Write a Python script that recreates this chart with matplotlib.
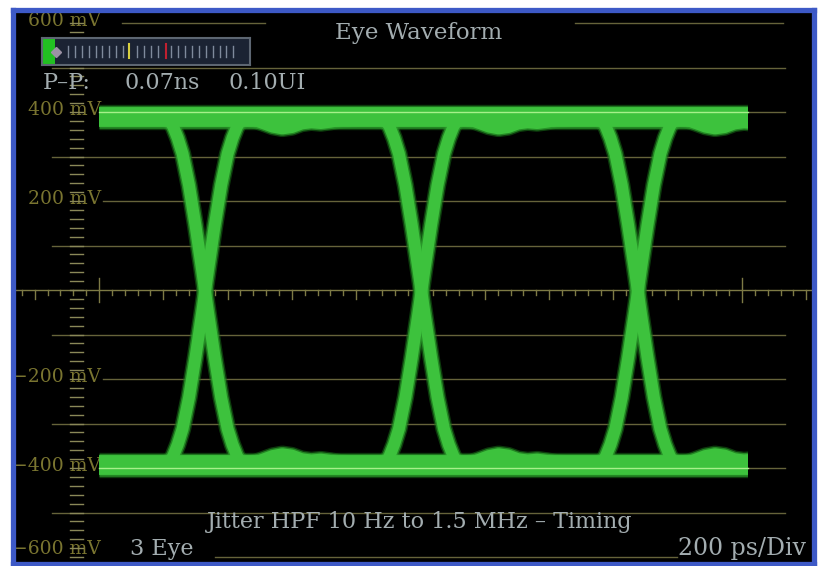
import numpy as np
import matplotlib
matplotlib.use("Agg")
import matplotlib.pyplot as plt
import matplotlib.transforms as mtransforms
from matplotlib.patches import Rectangle

# ---- eye diagram readings (HD-SDI, 200 ps/div) ----
crossings_ps = [330, 1003, 1676]
ui_ps = 673
window_ps = [0, 2018]
high_mv = 388
low_mv = -394

# falling edge profile around a crossing (fraction of half swing)
edge_dt_ps = [-125, -115, -100, -85, -70, -50, -30, -10, 0, 10, 30, 50, 70, 85, 100, 115, 125]
edge_frac = [1.0, 0.99, 0.95, 0.88, 0.79, 0.61, 0.38, 0.13, 0.0,
             -0.13, -0.38, -0.61, -0.79, -0.88, -0.95, -0.99, -1.0]

# settling ripple after an edge (mV toward the eye centre)
settle_dt_ps = [125, 150, 180, 210, 240, 270, 300, 330, 360, 390, 420, 460, 520]
settle_mv = [0, 5, 13, 21, 25, 22, 14, 11, 13, 10, 6, 3, 0]

# flat level spread (noise band)
band_offsets_mv = [-9, 0, 9]

# jitter readout
pp_ns = 0.07
pp_ui = 0.10
meter_max_ui = 1.6
meter_yellow_ui = 0.67
meter_red_ui = 0.95

# graticule
grid_mv = [600, 500, 400, 300, 200, 100, -100, -200, -300, -400, -500, -600]
label_mv = [600, 400, 200, -200, -400, -600]
ps_per_div = 200

# ---- screen geometry ----
W, H = 818, 566
X0_PX, PX_PER_PS = 99, 64.3 / 200
Y0_PX, PX_PER_MV = 290, 44.5 / 100


def px_to_ps(px):
    return (px - X0_PX) / PX_PER_PS


def px_to_mv(py):
    return (Y0_PX - py) / PX_PER_MV


fig = plt.figure(figsize=(W / 100, H / 100), dpi=100, facecolor="white")
left, right, top, bottom = 12.5, 814, 9.5, 564
ax = fig.add_axes([left / W, (H - bottom) / H, (right - left) / W, (bottom - top) / H])
ax.set_facecolor("black")
ax.set_xlim(px_to_ps(left), px_to_ps(right))
ax.set_ylim(px_to_mv(bottom), px_to_mv(top))
ax.set_xticks([])
ax.set_yticks([])
for s in ax.spines.values():
    s.set_color("#3d59c6")
    s.set_linewidth(3.8)

pix = mtransforms.Affine2D().scale(1 / W, -1 / H).translate(0, 1) + fig.transFigure

OLIVE = "#7a7530"
GRID = "#66633a"
GREY = "#a3adb0"
SERIF = "DejaVu Serif"

# ---- waveform ----
clip = Rectangle((window_ps[0], -800), window_ps[1] - window_ps[0], 1600,
                 transform=ax.transData)
mid = (high_mv + low_mv) / 2
half = (high_mv - low_mv) / 2
edge_dt = np.array(edge_dt_ps)
edge_fr = np.array(edge_frac)
sdt = np.array(settle_dt_ps)
smv = np.array(settle_mv)

traces = []
for c in crossings_ps:
    xs = np.concatenate([[c - ui_ps], c + edge_dt, c + sdt[1:], [c + ui_ps]])
    fall = np.concatenate([[high_mv], mid + half * edge_fr, low_mv + smv[1:], [low_mv]])
    rise = np.concatenate([[low_mv], mid - half * edge_fr, high_mv - smv[1:], [high_mv]])
    traces.append((xs, fall))
    traces.append((xs, rise))
for level in (high_mv, low_mv):
    for off in band_offsets_mv:
        traces.append((np.array(window_ps), np.array([level + off] * 2)))

# soft halo first, then the trace body
for lw, col, al in [(12.5, "#176a17", 0.55), (10.5, "#2a9a2a", 0.8), (8.5, "#3dc23d", 1.0)]:
    for xs, ys in traces:
        ln, = ax.plot(xs, ys, color=col, lw=lw, alpha=al, solid_capstyle="butt",
                      solid_joinstyle="round", zorder=2)
        ln.set_clip_path(clip)

# ---- graticule (under the trace) ----
for mv in grid_mv:
    if mv == 600:
        segs = [(122, 265), (575, 783)]
    elif mv == -600:
        segs = [(215, 677)]
    elif mv in label_mv:
        segs = [(103, 785)]
    else:
        segs = [(52, 785)]
    for a, b in segs:
        ax.plot([px_to_ps(a), px_to_ps(b)], [mv, mv], color=GRID, lw=1.0, zorder=1.5)
# bright trace where the 400 mV lines cross the signal
for mv in (400, -400):
    ax.plot(window_ps, [mv, mv], color="#a6f08a", lw=1.0, zorder=4)

# centre axis with time ticks
ax.plot([px_to_ps(left), px_to_ps(right)], [0, 0], color="#7d7a45", lw=1.0, zorder=1.5)
tick_ps = np.arange(-280, 2260, 40)
for t in tick_ps:
    if t % 1000 == 0:
        lo, hi = -27, 27
    elif t % ps_per_div == 0:
        lo, hi = -20, 0
    else:
        lo, hi = -11, 0
    ax.plot([t, t], [lo, hi], color="#7d7a45", lw=1.0, zorder=1.5)

# vertical scale column
for mv in np.arange(-600, 601, 20):
    ax.plot([px_to_ps(70), px_to_ps(83)], [mv, mv], color="#8a8858", lw=1.0, zorder=1.5)

# level labels
for mv in label_mv:
    txt = f"{mv} mV" if mv > 0 else f"\u2212{-mv} mV"
    ypx = min(Y0_PX - mv * PX_PER_MV - 2, 549)
    ax.text(101, ypx, txt, transform=pix, ha="right", va="center",
            color=OLIVE, fontsize=13.5, family=SERIF, zorder=1)

# ---- jitter meter ----
mx, my, mw, mh = 42, 38, 208, 27
max_ = fig.add_axes([mx / W, (H - my - mh) / H, mw / W, mh / H])
max_.set_facecolor("#1b2333")
max_.set_xlim(0, meter_max_ui)
max_.set_ylim(0, 1)
max_.set_xticks([])
max_.set_yticks([])
for s in max_.spines.values():
    s.set_color("#5d6672")
    s.set_linewidth(1.5)
max_.barh(0.5, pp_ui, height=1.0, left=0, color="#22c022")
max_.plot([pp_ui + 0.01], [0.5], marker="D", ms=5, color="#9c92a4")
for t in np.arange(0.20, 1.52, 0.053):
    if abs(t - meter_yellow_ui) < 0.03 or abs(t - meter_red_ui) < 0.03:
        continue
    max_.plot([t, t], [0.3, 0.72], color="#7f8a9c", lw=1.0)
max_.plot([meter_yellow_ui] * 2, [0.25, 0.78], color="#d8d040", lw=1.5)
max_.plot([meter_red_ui] * 2, [0.25, 0.78], color="#c02030", lw=1.5)

# ---- readouts ----
FS = 16
fig.text(419, 33, "Eye Waveform", transform=pix, ha="center", va="center",
         color=GREY, fontsize=16.5, family=SERIF)
fig.text(43, 83, "P\u2013P:", transform=pix, ha="left", va="center",
         color=GREY, fontsize=FS, family=SERIF)
fig.text(125, 83, f"{pp_ns:.2f}ns", transform=pix, ha="left", va="center",
         color=GREY, fontsize=FS, family=SERIF)
fig.text(228, 83, f"{pp_ui:.2f}UI", transform=pix, ha="left", va="center",
         color=GREY, fontsize=FS, family=SERIF)
fig.text(420, 522, "Jitter HPF 10 Hz to 1.5 MHz \u2013 Timing", transform=pix,
         ha="center", va="center", color=GREY, fontsize=FS, family=SERIF)
fig.text(130, 549, "3 Eye", transform=pix, ha="left", va="center",
         color=GREY, fontsize=FS, family=SERIF)
fig.text(806, 549, f"{ps_per_div} ps/Div", transform=pix, ha="right", va="center",
         color=GREY, fontsize=17, family=SERIF)

fig.savefig("out.png", dpi=100, facecolor="white")
